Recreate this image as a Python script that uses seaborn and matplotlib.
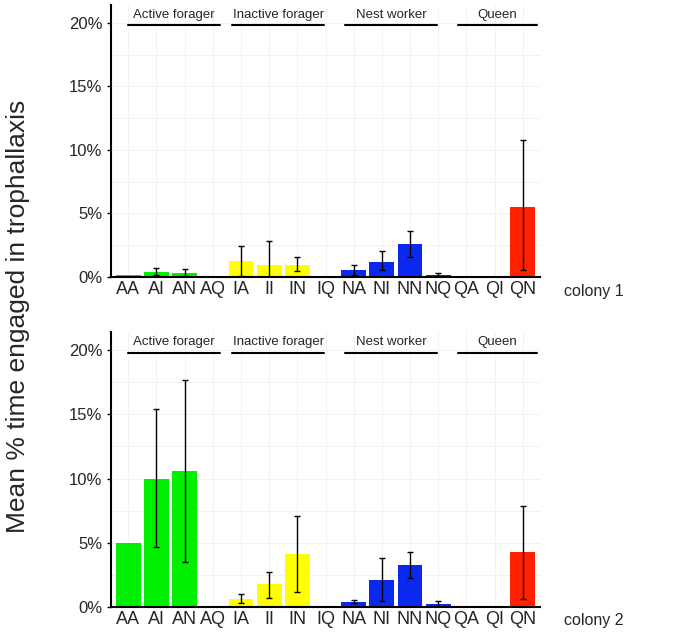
import numpy as np
import matplotlib
matplotlib.use('Agg')
import matplotlib.pyplot as plt
import pandas as pd
import seaborn as sns

sns.set_style('white')
plt.rcParams['font.family'] = ['Liberation Sans', 'DejaVu Sans']

categories = ['AA', 'AI', 'AN', 'AQ', 'IA', 'II', 'IN', 'IQ',
              'NA', 'NI', 'NN', 'NQ', 'QA', 'QI', 'QN']
groups = ['Active forager', 'Inactive forager', 'Nest worker', 'Queen']
group_colors = ['#00EE00', '#FFFF00', '#0A28EE', '#FF2200']

# colony 1: mean, lower, upper (%)
c1_mean = [0.16, 0.39, 0.29, 0, 1.25, 0.94, 0.94, 0, 0.55, 1.2, 2.56, 0.18, 0, 0, 5.54]
c1_low = [0.16, 0.16, 0.05, 0, 0.10, 0.0, 0.50, 0, 0.18, 0.55, 1.59, 0.05, 0, 0, 0.52]
c1_high = [0.16, 0.68, 0.63, 0, 2.43, 2.85, 1.54, 0, 0.97, 2.01, 3.63, 0.34, 0, 0, 10.75]

# colony 2
c2_mean = [5.0, 10.0, 10.6, 0, 0.65, 1.78, 4.15, 0, 0.39, 2.14, 3.26, 0.23, 0, 0, 4.3]
c2_low = [5.0, 4.7, 3.5, 0, 0.29, 0.73, 1.2, 0, 0.29, 0.5, 2.25, 0.0, 0, 0, 0.63]
c2_high = [5.0, 15.4, 17.7, 0, 1.04, 2.74, 7.05, 0, 0.57, 3.84, 4.26, 0.5, 0, 0, 7.9]

# x-extent of the group header lines (category units)
group_spans = [(0, 3.25), (3.7, 6.95), (7.7, 10.95), (11.7, 14.5)]

palette = {c: group_colors[i // 4] for i, c in enumerate(categories)}

fig = plt.figure(figsize=(7, 6.33), dpi=100)
ax1 = fig.add_axes([0.159, 0.5624, 0.612, 0.4296])
ax2 = fig.add_axes([0.159, 0.041, 0.612, 0.4345])

for ax, mean, low, high, label, ly in [
        (ax1, c1_mean, c1_low, c1_high, 'colony 1', 0.539),
        (ax2, c2_mean, c2_low, c2_high, 'colony 2', 0.019)]:
    df = pd.DataFrame({'pair': categories, 'mean': mean, 'low': low, 'high': high})
    sns.barplot(data=df, x='pair', y='mean', hue='pair', palette=palette,
                order=categories, width=0.88, legend=False, ax=ax,
                edgecolor='none', saturation=1)
    err = df[df['high'] > df['low']]
    xpos = [categories.index(p) for p in err['pair']]
    ax.errorbar(xpos, err['mean'],
                yerr=[err['mean'] - err['low'], err['high'] - err['mean']],
                fmt='none', ecolor='black', elinewidth=1, capsize=2.5, capthick=1)

    ax.set_xlim(-0.6, 14.6)
    ax.set_ylim(0, 21.4)
    ax.set_yticks([0, 5, 10, 15, 20])
    ax.set_yticklabels(['0%', '5%', '10%', '15%', '20%'], fontsize=12)
    ax.set_yticks([2.5, 7.5, 12.5, 17.5], minor=True)
    ax.tick_params(axis='x', labelsize=13, length=0, pad=3)
    ax.tick_params(axis='y', which='major', length=3, width=1, color='black', left=True)
    ax.tick_params(axis='y', which='minor', length=0)
    ax.set_xlabel('')
    ax.set_ylabel('')
    ax.grid(True, which='both', color='#f0f0f0', linewidth=0.6)
    ax.set_axisbelow(True)
    for s in ['top', 'right']:
        ax.spines[s].set_visible(False)
    for s in ['left', 'bottom']:
        ax.spines[s].set_color('black')
        ax.spines[s].set_linewidth(1.5)

    for g, (x0, x1) in zip(groups, group_spans):
        ax.plot([x0, x1], [19.8, 19.8], color='black', linewidth=1.5, clip_on=False)
        ax.text((x0 + x1) / 2, 20.15, g, ha='center', va='bottom', fontsize=9.5)

    fig.text(0.805, ly, label, ha='left', va='center', fontsize=11.5)

fig.text(0.026, 0.5, 'Mean % time engaged in trophallaxis', rotation=90,
         ha='center', va='center', fontsize=19)

plt.savefig('out.png', dpi=100)
